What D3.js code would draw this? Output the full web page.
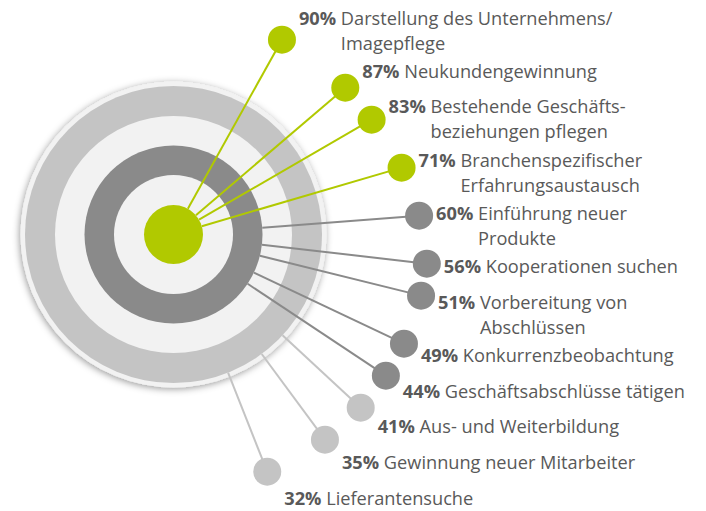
<!DOCTYPE html>
<html>
<head>
<meta charset="utf-8">
<script src="https://cdn.jsdelivr.net/npm/d3@7"></script>
<style>
  body { margin: 0; background: #fff; }
  text { font-family: "Open Sans", sans-serif; fill: #595959; }
</style>
</head>
<body>
<svg id="chart" width="706" height="511"></svg>
<script>
// Messeziele - Anteile in Prozent
var values = [90, 87, 83, 71, 60, 56, 51, 49, 44, 41, 35, 32];
var labelLines = [
    ["Darstellung des Unternehmens/", "Imagepflege"],
    ["Neukundengewinnung"],
    ["Bestehende Geschäfts-", "beziehungen pflegen"],
    ["Branchenspezifischer", "Erfahrungsaustausch"],
    ["Einführung neuer", "Produkte"],
    ["Kooperationen suchen"],
    ["Vorbereitung von", "Abschlüssen"],
    ["Konkurrenzbeobachtung"],
    ["Geschäftsabschlüsse tätigen"],
    ["Aus- und Weiterbildung"],
    ["Gewinnung neuer Mitarbeiter"],
    ["Lieferantensuche"]
];

var green = "#b1c900", dark = "#8a8a8a", light = "#c4c4c4", pale = "#f2f2f2";
var cx = 173.5, cy = 234.5;
var lineHeight = 25, fontSize = 18.2;

var svg = d3.select("#chart");

var defs = svg.append("defs");
defs.append("filter")
    .attr("id", "shadow")
    .attr("x", "-20%").attr("y", "-20%")
    .attr("width", "140%").attr("height", "140%")
    .append("feDropShadow")
    .attr("dx", -1).attr("dy", 1.5)
    .attr("stdDeviation", 3.5)
    .attr("flood-color", "#000")
    .attr("flood-opacity", 0.4);

// target rings, outside in
var rings = [
    { r: 153, fill: pale, shadow: true },
    { r: 148.5, fill: light },
    { r: 118.5, fill: pale },
    { r: 89, fill: dark },
    { r: 59.5, fill: pale },
    { r: 29.5, fill: green }
];

var target = svg.append("g").attr("transform", "translate(" + cx + "," + cy + ")");
target.selectAll("circle")
    .data(rings)
    .enter().append("circle")
    .attr("r", function (d) { return d.r; })
    .attr("fill", function (d) { return d.fill; })
    .attr("filter", function (d) { return d.shadow ? "url(#shadow)" : null; });

// tier: which ring the spoke starts from
var tier = d3.scaleThreshold().domain([42, 65]).range([2, 1, 0]);
var tierColor = [green, dark, light];
var tierStart = [29.5, 89, 148.5];

// vertical flow of the labels: one unit gap + one unit per line
var units = [0];
labelLines.forEach(function (l, i) { units.push(units[i] + 1 + l.length); });
var yRow = d3.scaleLinear()
    .domain([0, units[labelLines.length - 1]])
    .range([18, 498]);

var spokeR = d3.scaleLinear().domain([0, 2, 5]).range([223, 229, 255]).clamp(true);

var items = values.map(function (v, i) {
    var ly = yRow(units[i]);
    var dy = 0.9 * (ly - cy);
    var R = spokeR(i);
    var dx = Math.sqrt(Math.max(0, R * R - dy * dy));
    var ang = Math.atan2(dy, dx);
    return {
        value: v, lines: labelLines[i], tier: tier(v),
        x: cx + dx, y: cy + dy, ly: ly, ang: ang
    };
});

svg.append("g").selectAll("line")
    .data(items)
    .enter().append("line")
    .attr("x1", function (d) { return cx + tierStart[d.tier] * Math.cos(d.ang); })
    .attr("y1", function (d) { return cy + tierStart[d.tier] * Math.sin(d.ang); })
    .attr("x2", function (d) { return d.x; })
    .attr("y2", function (d) { return d.y; })
    .attr("stroke", function (d) { return tierColor[d.tier]; })
    .attr("stroke-width", 2);

svg.append("g").selectAll("circle")
    .data(items)
    .enter().append("circle")
    .attr("cx", function (d) { return d.x; })
    .attr("cy", function (d) { return d.y; })
    .attr("r", 14)
    .attr("fill", function (d) { return tierColor[d.tier]; });

var labels = svg.append("g").selectAll("g")
    .data(items)
    .enter().append("g")
    .attr("transform", function (d) { return "translate(" + (d.x + 17) + "," + (d.ly + 6.5) + ")"; });

labels.each(function (d) {
    var g = d3.select(this);
    var t = g.append("text").attr("font-size", fontSize);
    var pct = t.append("tspan").attr("font-weight", "bold").text(d.value + "%");
    t.append("tspan").text(" " + d.lines[0]);
    var indent = pct.node().getComputedTextLength() + fontSize * 0.26;
    d.lines.slice(1).forEach(function (line, k) {
        g.append("text")
            .attr("font-size", fontSize)
            .attr("x", indent)
            .attr("y", (k + 1) * lineHeight)
            .text(line);
    });
});
</script>
</body>
</html>
